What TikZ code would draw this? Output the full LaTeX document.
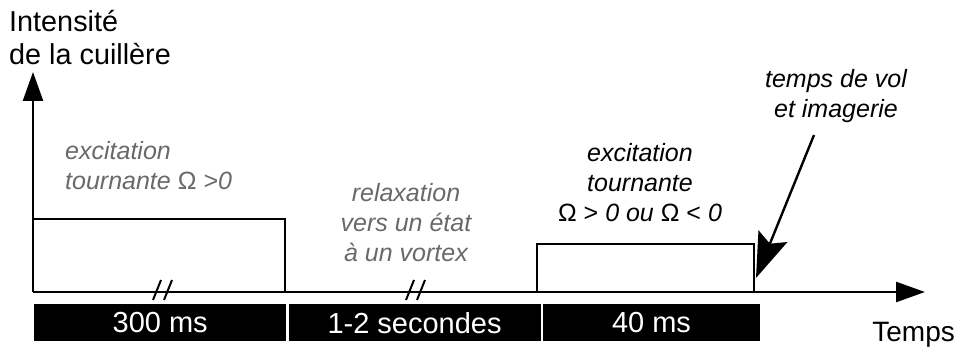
\documentclass[tikz,border=0pt]{standalone}
\usepackage{fontspec}
\setmainfont{Liberation Sans}
\usetikzlibrary{arrows.meta,positioning}
\definecolor{lGray}{RGB}{105,105,105}

\begin{document}
\begin{tikzpicture}[x=1pt,y=-1pt,line width=2.4pt,
  t/.style={inner sep=0pt,align=center,font=\fontsize{25}{30}\selectfont\itshape},
  seg/.style={fill=black,text=white,minimum height=37pt,inner sep=0pt,font=\fontsize{29}{30}\selectfont},
  ax/.style={-{Triangle[length=29pt,width=20pt]}},
  brk/.style={line width=2pt}]
  \useasboundingbox (0,0) rectangle (959,352);
  % axes
  \coordinate (o) at (33,292);
  \coordinate (ytop) at (33,72);
  \coordinate (xend) at (925,292);
  \draw[ax] (o) -- (ytop);
  \draw[ax] (o) -- (xend);
  \node[anchor=north west,align=left,inner sep=0pt,font=\fontsize{28.8}{33}\selectfont] (ylab) at (8,9.5) {Intensité\\de la cuillère};
  \node[anchor=base east,inner sep=0pt,font=\fontsize{28}{30}\selectfont] (xlab) at (956,342) {Temps};
  % pulses
  \draw (33,219) -- (285,219) -- (285,292);
  \draw (537,292) -- (537,244) -- (754,244) -- (754,292);
  \foreach \x in {153,406} {
    \draw[brk] (\x,300) -- (\x+8,280);
    \draw[brk] (\x+11,300) -- (\x+19,280);
  }
  % time bar
  \node[seg,anchor=north west,minimum width=252pt] (s1) at (33,303) {300 ms};
  \node[seg,right=0pt of s1,minimum width=252pt] (s2) {1-2 secondes};
  \node[seg,right=0pt of s2,minimum width=217pt] (s3) {40 ms};
  \foreach \s in {s1,s2} \draw[white,line width=1.5pt] (\s.north east) -- (\s.south east);
  % labels
  \node[t,lGray,anchor=north west,align=left] (ex1) at (64,140) {excitation\\tournante {\upshape Ω} >0};
  \node[t,lGray,anchor=north] (rel) at (406,182) {relaxation\\vers un état\\à un vortex};
  \node[t,anchor=north] (ex2) at (640,142) {excitation\\tournante\\{\upshape Ω >} 0 ou {\upshape Ω <} 0};
  \node[t,anchor=north] (tof) at (836,68) {temps de vol\\et imagerie};
  \coordinate (tofS) at (814,135);
  \coordinate (tofE) at (756,278);
  \draw[-{Stealth[length=45pt,width=31pt,inset=8pt]}] (tofS) -- (tofE);
\end{tikzpicture}
\end{document}
